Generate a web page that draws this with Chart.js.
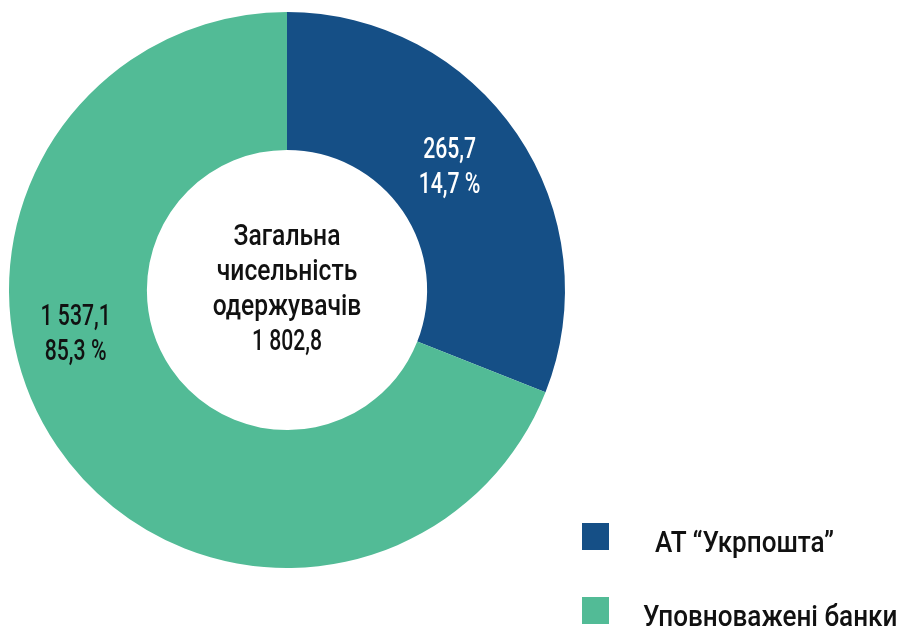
<!DOCTYPE html>
<html lang="uk">
<head>
  <meta charset="utf-8">
  <title>Одержувачі</title>
  <script src="https://cdn.jsdelivr.net/npm/chart.js@4.4.1/dist/chart.umd.min.js"></script>
  <style>
    html, body { margin: 0; padding: 0; background: #fff; }
    #wrap { position: relative; width: 903px; height: 630px; }
    #legend {
      position: absolute; left: 582px; top: 523px;
      font-family: Roboto, "DejaVu Sans Condensed", sans-serif;
      font-weight: 500; font-size: 29px; color: #111;
    }
    #legend .item { position: relative; height: 74px; }
    #legend .box { position: absolute; left: 0; top: 0; width: 27px; height: 27px; }
    #legend .txt {
      position: absolute; top: 4px; white-space: nowrap; line-height: 30px;
      transform: scaleX(0.9); transform-origin: left center;
    }
  </style>
</head>
<body>
  <div id="wrap">
    <canvas id="donut" width="903" height="630"></canvas>
    <div id="legend"></div>
  </div>

  <script>
    // data
    var categories = ['АТ \u201cУкрпошта\u201d', 'Уповноважені банки'];
    var values = [265.7, 1537.1];
    // share of the ring each slice takes in the picture (drawn, not proportional)
    var sliceShares = [31.0, 69.0];
    var colors = ['#154f86', '#52bb96'];
    var labelColors = ['#ffffff', '#111111'];
    var centerLines = ['Загальна', 'чисельність', 'одержувачів'];

    var FONT = 'Roboto, "DejaVu Sans Condensed", sans-serif';
    var SX_WORDS = 0.85, SX_NUM = 0.73;

    function fmt(v) {
      var s = v.toFixed(1).split('.');
      var i = s[0].replace(/\B(?=(\d{3})+(?!\d))/g, ' ');
      return i + ',' + s[1];
    }
    var total = values.reduce(function (a, b) { return a + b; }, 0);

    // where along each slice the label sits (fraction of angle, fraction of ring width)
    var labelAt = [[0.475, 0.46], [0.59, 0.55]];

    function narrowText(ctx, t, x, y, sx) {
      ctx.save();
      ctx.translate(x, y);
      ctx.scale(sx, 1);
      ctx.fillText(t, 0, 0);
      ctx.restore();
    }

    var textPlugin = {
      id: 'donutText',
      afterDatasetsDraw: function (chart) {
        var ctx = chart.ctx;
        var meta = chart.getDatasetMeta(0);
        ctx.save();
        ctx.textAlign = 'center';
        ctx.textBaseline = 'middle';
        ctx.font = '500 29px ' + FONT;
        meta.data.forEach(function (arc, i) {
          var p = arc.getProps(['x', 'y', 'startAngle', 'endAngle', 'innerRadius', 'outerRadius']);
          var a = p.startAngle + labelAt[i][0] * (p.endAngle - p.startAngle);
          var r = p.innerRadius + labelAt[i][1] * (p.outerRadius - p.innerRadius);
          var x = p.x + Math.cos(a) * r;
          var y = p.y + Math.sin(a) * r;
          var pct = (values[i] / total * 100).toFixed(1).replace('.', ',') + ' %';
          ctx.fillStyle = labelColors[i];
          narrowText(ctx, fmt(values[i]), x, y - 17, SX_NUM);
          narrowText(ctx, pct, x, y + 18, SX_NUM);
        });
        // centre text
        var c = meta.data[0];
        ctx.fillStyle = '#111111';
        var lh = 35;
        var y0 = c.y - lh * 1.5;
        centerLines.forEach(function (t, k) {
          narrowText(ctx, t, c.x, y0 + k * lh, SX_WORDS);
        });
        narrowText(ctx, fmt(total), c.x, y0 + 3 * lh, SX_NUM);
        ctx.restore();
      }
    };

    new Chart(document.getElementById('donut'), {
      type: 'doughnut',
      data: {
        labels: categories,
        datasets: [{
          data: sliceShares,
          backgroundColor: colors,
          borderWidth: 0,
          hoverOffset: 0
        }]
      },
      options: {
        responsive: false,
        animation: false,
        cutout: '50.4%',
        layout: { padding: { left: 9, right: 338, top: 12, bottom: 62 } },
        plugins: {
          legend: { display: false },
          tooltip: { enabled: false }
        }
      },
      plugins: [textPlugin]
    });

    // legend
    var leg = document.getElementById('legend');
    var indents = [73, 61];
    categories.forEach(function (name, i) {
      var it = document.createElement('div');
      it.className = 'item';
      it.innerHTML = '<div class="box" style="background:' + colors[i] + '"></div>' +
        '<div class="txt" style="left:' + indents[i] + 'px">' + name + '</div>';
      leg.appendChild(it);
    });
  </script>
</body>
</html>
